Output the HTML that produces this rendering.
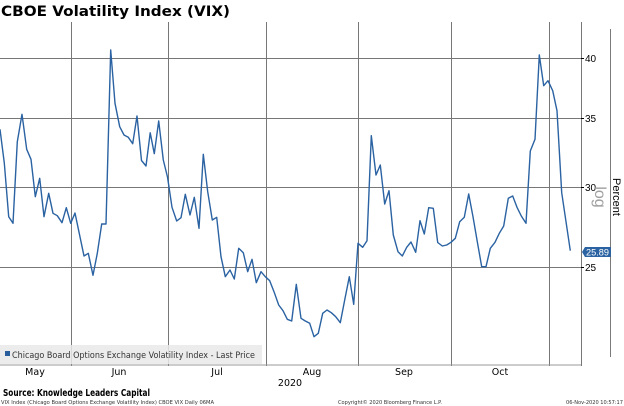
<!DOCTYPE html>
<html>
<head>
<meta charset="utf-8">
<style>
html,body{margin:0;padding:0;background:#fff;}
svg{display:block;}
</style>
</head>
<body>
<svg width="624" height="406" viewBox="0 0 624 406" xmlns="http://www.w3.org/2000/svg">
<rect x="0" y="0" width="624" height="406" fill="#fff"/>
<!-- Title -->
<text x="1" y="16" font-family="DejaVu Sans, Verdana, sans-serif" font-weight="bold" font-size="14.5" fill="#000" textLength="229" lengthAdjust="spacingAndGlyphs">CBOE Volatility Index (VIX)</text>

<!-- grid -->
<g stroke="#777" stroke-width="1" fill="none">
  <line x1="0" y1="58.5" x2="581" y2="58.5"/>
  <line x1="0" y1="118.5" x2="581" y2="118.5"/>
  <line x1="0" y1="187.5" x2="581" y2="187.5"/>
  <line x1="0" y1="267.5" x2="581" y2="267.5"/>
  <line x1="71.5" y1="22" x2="71.5" y2="366"/>
  <line x1="168.5" y1="22" x2="168.5" y2="366"/>
  <line x1="266.5" y1="22" x2="266.5" y2="366"/>
  <line x1="358.5" y1="22" x2="358.5" y2="366"/>
  <line x1="451.5" y1="22" x2="451.5" y2="366"/>
  <line x1="549.5" y1="22" x2="549.5" y2="366"/>
  <line x1="581.5" y1="22" x2="581.5" y2="366"/>
</g>
<line x1="0" y1="365" x2="581" y2="365" stroke="#9a9a9a" stroke-width="1"/>

<!-- tick marks -->
<g stroke="#000" stroke-width="1">
  <line x1="581" y1="58.5" x2="584" y2="58.5"/>
  <line x1="581" y1="118.5" x2="584" y2="118.5"/>
  <line x1="581" y1="187.5" x2="584" y2="187.5"/>
  <line x1="581" y1="267.5" x2="584" y2="267.5"/>
</g>
<g font-family="Liberation Sans, DejaVu Sans, sans-serif" font-size="10" fill="#000">
  <text x="585" y="62">40</text>
  <text x="585" y="122">35</text>
  <text x="585" y="191">30</text>
  <text x="585" y="271">25</text>
</g>

<!-- right axis labels -->
<line x1="610.5" y1="29" x2="610.5" y2="357" stroke="#7a7a7a" stroke-width="1"/>
<text transform="translate(595,197) rotate(90)" text-anchor="middle" font-family="Liberation Sans, DejaVu Sans, sans-serif" font-size="16" fill="#a0a0a0">log</text>
<text transform="translate(613,197) rotate(90)" text-anchor="middle" font-family="Liberation Sans, DejaVu Sans, sans-serif" font-size="11" fill="#000">Percent</text>

<!-- legend box -->
<rect x="0" y="345" width="262" height="19" fill="#e9e9e9" fill-opacity="0.85"/>
<rect x="5" y="351" width="5" height="5" fill="#2a5d9b"/>
<text x="12" y="358" font-family="DejaVu Sans, Verdana, sans-serif" font-size="8.5" fill="#333" textLength="243" lengthAdjust="spacingAndGlyphs">Chicago Board Options Exchange Volatility Index - Last Price</text>

<!-- series -->
<polyline fill="none" stroke="#2a62a2" stroke-width="1.4" stroke-linejoin="round" points="
0,129.3 4.3,163 8.7,216.7 13,223.3 17.3,141.7 22,114.3 26.7,149.3 31,159.3 35.3,196.7 39.7,178.3 44,216.7 48.7,193.3 53,213.3 57.3,215.7 62,222.7 66.3,207.7 70.7,223.3 75,213 84,256 88.3,253.3 93,275.3 97.3,253.3 101.7,224 106,224 110.7,50 115,103.3 119.7,126.7 124,135 128.3,137.3 132.7,143.7 137,116 141.5,160.5 146,166 150.2,132.8 154.3,153.7 158.7,121 163.3,160 167.5,177 172,207.3 176.7,221 181,217.7 185.3,194.3 190,215 194.3,197.3 199,228.3 203.3,154.3 207.7,191.7 212.3,220 216.7,217.3 221,256.7 225.3,276.7 230,270 234.3,279 238.7,248.3 243.3,252.7 247.7,271.7 252,259.3 256.3,282.7 261,271.7 265.3,276.7 269.7,280.7 274,291.7 278.7,305 283,310.7 287.3,319.3 291.7,321 296.3,284.3 301,318.3 305.3,321 309.7,323.3 314,336.7 318.3,333.3 322.7,313.3 327,310 331.3,312.7 335.7,316.7 340.3,322.7 344.7,300 349.3,276.7 353.7,304.3 358,243.3 362.7,247.3 367,240.7 371.3,135.7 376,175 380.3,165 384.7,204 389,190.7 393.3,235 398,251.7 402.3,256 406.7,247.3 411,242 415.7,252.3 420,220.7 424.3,234 428.7,207.7 433.3,208.3 437.7,242.5 442.3,246 446.7,245 451,242.3 455.3,238.3 459.7,221.7 464.3,217.3 468.7,194 473,216.7 477.3,241.7 481.7,266.7 486,266.7 490.3,248.3 495,242.3 499.3,233.3 503.7,226 508.3,198.3 512.7,196 517,207.3 521.3,216 526,223.3 530.3,151 535,139.3 539.3,55 543.7,85.7 548,80.7 552.7,90.7 557,110.7 561.7,192.7 570.3,250.7"/>

<!-- last price tag -->
<path d="M582,252 L585,247 L611,247 L611,257 L585,257 Z" fill="#2a62a2"/>
<text x="586" y="255.5" font-family="Liberation Sans, DejaVu Sans, sans-serif" font-size="9.5" fill="#fff" textLength="23" lengthAdjust="spacingAndGlyphs">25.89</text>

<!-- x labels -->
<g font-family="DejaVu Sans, Verdana, sans-serif" font-size="9.5" fill="#000" text-anchor="middle">
  <text x="35" y="375">May</text>
  <text x="119" y="375">Jun</text>
  <text x="217" y="375">Jul</text>
  <text x="312" y="375">Aug</text>
  <text x="404" y="375">Sep</text>
  <text x="500" y="375">Oct</text>
  <text x="290" y="386">2020</text>
</g>

<!-- source -->
<text x="3" y="396" font-family="DejaVu Sans, Verdana, sans-serif" font-weight="bold" font-size="9.5" fill="#000" textLength="147" lengthAdjust="spacingAndGlyphs">Source: Knowledge Leaders Capital</text>

<!-- footer -->
<g font-family="DejaVu Sans, Verdana, sans-serif" font-size="5.2" fill="#333">
  <text x="1" y="404" textLength="213" lengthAdjust="spacingAndGlyphs">VIX Index (Chicago Board Options Exchange Volatility Index) CBOE VIX  Daily 06MA</text>
  <text x="338" y="404" textLength="104" lengthAdjust="spacingAndGlyphs">Copyright© 2020 Bloomberg Finance L.P.</text>
  <text x="566" y="404" textLength="57" lengthAdjust="spacingAndGlyphs">06-Nov-2020 10:57:17</text>
</g>
</svg>
</body>
</html>
